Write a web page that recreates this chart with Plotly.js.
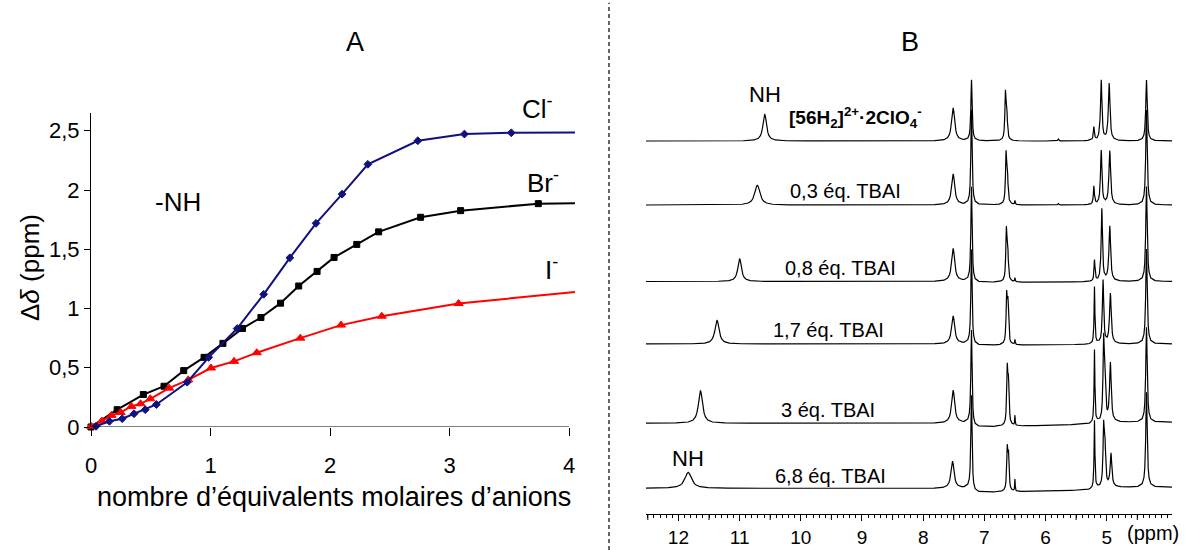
<!DOCTYPE html>
<html><head><meta charset="utf-8">
<script src="https://cdn.plot.ly/plotly-3.0.1.min.js"></script>
<style>html,body{margin:0;padding:0;background:#fff}#chart{width:1187px;height:550px}</style>
</head><body><div id="chart"></div>
<script>
// ---------- Panel A data (Δδ of NH vs equivalents of anion) ----------
const clX = [0.042,0.154,0.261,0.360,0.454,0.547,0.805,0.985,1.223,1.445,1.664,1.883,2.101,2.317,2.735,3.125,3.517,4.05];
const clY = [0.006,0.048,0.070,0.112,0.146,0.190,0.378,0.588,0.831,1.120,1.428,1.719,1.965,2.217,2.416,2.472,2.483,2.485];
const brX = [0,0.219,0.438,0.611,0.776,0.946,1.104,1.268,1.422,1.586,1.738,1.892,2.034,2.224,2.407,2.758,3.093,3.743,4.05];
const brY = [0,0.146,0.274,0.344,0.476,0.588,0.706,0.832,0.924,1.045,1.190,1.313,1.431,1.541,1.647,1.770,1.826,1.885,1.888];
const iX  = [0,0.090,0.171,0.248,0.338,0.415,0.496,0.653,0.814,1.004,1.197,1.387,1.751,2.092,2.433,3.076,4.05];
const iY  = [0.006,0.050,0.098,0.123,0.174,0.196,0.238,0.328,0.398,0.498,0.554,0.627,0.750,0.860,0.935,1.042,1.140];
const aYTicks = [0,0.5,1,1.5,2,2.5];
const aYTickText = ['0','0,5','1','1,5','2','2,5'];
const aXTicks = [0,1,2,3,4];

// ---------- Panel B data (1H NMR titration, peaks: shift ppm, height, half-width ppm) ----------
const specLabels = ['<b>[56H<sub>2</sub>]<sup>2+</sup>·2ClO<sub>4</sub><sup>-</sup></b>','0,3 éq. TBAI','0,8 éq. TBAI','1,7 éq. TBAI','3 éq. TBAI','6,8 éq. TBAI'];
const s1Shift = [10.59,7.51,7.21,6.655,6.635,5.79,5.21,5.09,4.96,4.35];
const s1Height = [27,33,61,44,30,2,13,60,57,61];
const s1Width = [0.035,0.03,0.012,0.011,0.011,0.01,0.01,0.014,0.016,0.014];
const s2Shift = [10.71,7.51,7.21,6.645,6.625,6.50,5.79,5.21,5.09,4.95,4.35];
const s2Height = [20,31,95,47,32,4,1.5,18,54,54,95];
const s2Width = [0.05,0.03,0.012,0.011,0.011,0.006,0.01,0.01,0.014,0.016,0.014];
const s3Shift = [11.00,7.51,7.21,6.64,6.62,6.50,5.20,5.08,4.95,4.35];
const s3Height = [23,33,95,48,34,4,21,72,55,95];
const s3Width = [0.035,0.03,0.012,0.011,0.011,0.006,0.009,0.013,0.016,0.014];
const s4Shift = [11.37,7.51,7.21,6.635,6.615,6.50,5.20,5.06,4.94,4.35];
const s4Height = [24,28,95,46,38,5,57,63,50,95];
const s4Width = [0.04,0.03,0.012,0.011,0.011,0.006,0.008,0.013,0.016,0.014];
const s5Shift = [11.64,7.51,7.21,6.625,6.605,6.50,5.20,5.05,5.03,4.94,4.35];
const s5Height = [33,33,95,54,40,10,73,77,40,58,95];
const s5Width = [0.04,0.03,0.012,0.011,0.011,0.005,0.008,0.012,0.012,0.016,0.014];
const s6Shift = [11.84,7.52,7.21,6.625,6.605,6.50,5.20,5.05,5.03,4.93,4.35];
const s6Height = [16,27,95,40,32,12,68,56,40,33,95];
const s6Width = [0.065,0.03,0.012,0.011,0.011,0.005,0.008,0.012,0.012,0.016,0.014];
// small baseline shifts (spliced spectra) at these ppm nodes
const dipShift = [7.215,7.205,5.30,5.00];
const s1Dip = [0,0,0,0], s2Dip = [0,0,0,0], s3Dip = [0,-1,-0.5,0];
const s4Dip = [0,-1.5,-0.5,0], s5Dip = [0,-4,-1,1], s6Dip = [0,-4.4,-1.7,1];
const bTicks = [5,6,7,8,9,10,11,12];
const bTickText = ['5','6','7','8','9','10','11','12'];
const bHalfTicks = [4.5,5.5,6.5,7.5,8.5,9.5,10.5,11.5,12.5];

// ---------- geometry / style ----------
const W = 1187, H = 550;
const px = x => x / W, py = y => 1 - y / H;
const FONT = '"Liberation Sans", Arial, Helvetica, sans-serif';
const specBase = [373, 309, 232.5, 170, 90.7, 25.7];   // stacking offsets (px above axis)
const B_RANGE = [12.53, 3.933];
// peak glyph: Lorentzian-like profile template (offset in half-widths -> relative height)
const GLYPH_U = [0,0.3,0.6,1,1.5,2,3,5,10,20,40];
const GLYPH_V = [1,0.917,0.735,0.5,0.308,0.2,0.1,0.0385,0.0099,0.0025,0.0006];
function glyph(u){
  const a = Math.abs(u);
  if (a >= GLYPH_U[GLYPH_U.length-1]) return 0;
  for (let k=1;k<GLYPH_U.length;k++){
    if (a <= GLYPH_U[k]){
      const t=(a-GLYPH_U[k-1])/(GLYPH_U[k]-GLYPH_U[k-1]);
      return GLYPH_V[k-1]+t*(GLYPH_V[k]-GLYPH_V[k-1]);
    }
  }
  return 0;
}
function dipAt(x, dip){
  if (x >= dipShift[0]) return dip[0];
  for (let k=1;k<dipShift.length;k++){
    if (x >= dipShift[k]){
      const t=(dipShift[k-1]-x)/(dipShift[k-1]-dipShift[k]);
      return dip[k-1]+t*(dip[k]-dip[k-1]);
    }
  }
  return dip[dip.length-1];
}
function buildSpectrum(shift, height, width, dip, base){
  let xs = [B_RANGE[0], B_RANGE[1]].concat(dipShift);
  shift.forEach((p,i)=>{
    GLYPH_U.forEach(u=>{ xs.push(p+u*width[i]); xs.push(p-u*width[i]); });
  });
  xs = xs.filter(x=>x<=B_RANGE[0] && x>=B_RANGE[1]);
  xs.sort((a,b)=>b-a);
  const ux=[], uy=[];
  xs.forEach(x=>{
    if (ux.length && Math.abs(ux[ux.length-1]-x)<1e-9) return;
    let y = base + dipAt(x, dip);
    shift.forEach((p,i)=>{ y += height[i]*glyph((x-p)/width[i]); });
    ux.push(x); uy.push(y);
  });
  return {x:ux, y:uy};
}

const traces = [];
function aTrace(x, y, color, symbol, size){
  traces.push({type:'scatter', mode:'lines+markers', x, y, xaxis:'x', yaxis:'y',
    line:{color, width:2}, cliponaxis:false,
    marker:{symbol, color, opacity:1, size: x.map((v,i)=> i===x.length-1 ? 0 : size), line:{width:1, color}},
    hoverinfo:'skip'});
}
aTrace(brX, brY, '#000000', 'square', 6);
aTrace(iX, iY, '#ff0000', 'triangle-up', 8);
aTrace(clX, clY, '#10107e', 'diamond', 6);

const specs = [
  [s1Shift,s1Height,s1Width,s1Dip],[s2Shift,s2Height,s2Width,s2Dip],[s3Shift,s3Height,s3Width,s3Dip],
  [s4Shift,s4Height,s4Width,s4Dip],[s5Shift,s5Height,s5Width,s5Dip],[s6Shift,s6Height,s6Width,s6Dip]
];
specs.forEach((s,k)=>{
  const d = buildSpectrum(s[0],s[1],s[2],s[3],specBase[k]);
  traces.push({type:'scatter', mode:'lines', x:d.x, y:d.y, xaxis:'x2', yaxis:'y2',
    line:{color:'#000', width:1.2}, hoverinfo:'skip'});
});

const ann = (x,y,text,size,extra) => Object.assign({xref:'paper',yref:'paper',x:px(x),y:py(y),text,showarrow:false,
  xanchor:'center',yanchor:'middle',font:{family:FONT,size,color:'#000'}}, extra||{});

const annotations = [
  ann(355,42,'A',27), ann(910,42,'B',27),
  ann(537,107,'Cl<sup>-</sup>',26), ann(543,181,'Br<sup>-</sup>',26), ann(551,268,'I<sup>-</sup>',26),
  ann(178,202,'-NH',26),
  ann(334,497,'nombre d’équivalents molaires d’anions',27),
  ann(30,268,'Δ<i>δ</i> (ppm)',26,{textangle:-90}),
  ann(765,94,'NH',22), ann(688,458,'NH',22),
  ann(855,117,specLabels[0],19),
  ann(845,191,specLabels[1],20), ann(840,268,specLabels[2],20),
  ann(828,330,specLabels[3],20), ann(828,410,specLabels[4],20), ann(830,476,specLabels[5],20),
  ann(1153,533,'(ppm)',20)
];

const shapes = [
  {type:'line', xref:'x', yref:'y', x0:0, x1:4, y0:0, y1:0, line:{color:'#000', width:1}},
  {type:'line', xref:'paper', yref:'paper', x0:px(609), x1:px(609), y0:0, y1:0.995, line:{color:'#000', width:1.2, dash:'4px,3px'}}
];
bHalfTicks.forEach(v=>shapes.push({type:'line', xref:'x2', yref:'paper', x0:v, x1:v, y0:py(514), y1:py(520), line:{color:'#000', width:1}}));

const layout = {
  width:W, height:H, margin:{l:0,r:0,t:0,b:0}, paper_bgcolor:'#fff', plot_bgcolor:'rgba(0,0,0,0)',
  showlegend:false, font:{family:FONT,color:'#000'},
  xaxis:{domain:[px(91), px(91+4.05*119.5)], range:[0,4.05], anchor:'y', showline:false, showgrid:false, zeroline:false,
    tickmode:'array', tickvals:aXTicks, ticktext:aXTicks.map(String), ticks:'outside', ticklen:8, tickwidth:1, tickcolor:'#000',
    tickfont:{size:22}, ticklabelstandoff:11},
  yaxis:{domain:[py(427), py(113)], range:[0,2.65], anchor:'x', showline:true, linecolor:'#000', linewidth:1,
    showgrid:false, zeroline:false, tickmode:'array', tickvals:aYTicks, ticktext:aYTickText, ticks:'outside',
    ticklen:6, tickwidth:1, tickcolor:'#000', tickfont:{size:22}},
  xaxis2:{domain:[px(646), px(1172)], range:B_RANGE, anchor:'y2', showline:true, linecolor:'#000', linewidth:1,
    showgrid:false, zeroline:false, tickmode:'array', tickvals:bTicks, ticktext:bTickText, ticks:'outside',
    ticklen:6, tickwidth:1, tickcolor:'#000', tickfont:{size:19},
    minor:{dtick:0.1, tick0:0, ticks:'outside', ticklen:3, tickwidth:1, tickcolor:'#000', showgrid:false}},
  yaxis2:{domain:[py(514), py(60)], range:[0,454], anchor:'x2', visible:false},
  shapes, annotations
};
Plotly.newPlot('chart', traces, layout, {staticPlot:true, displayModeBar:false});
</script>
</body></html>
